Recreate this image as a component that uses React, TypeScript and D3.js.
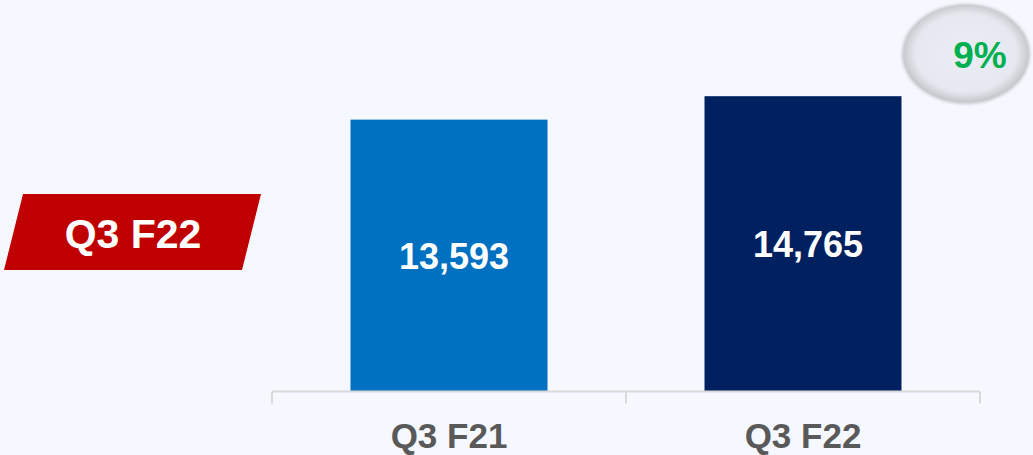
import { useEffect, useRef } from "react"
import * as d3 from "d3"

const categories = ["Q3 F21", "Q3 F22"]
const values = [13593, 14765]
const barColors = ["#0070c0", "#002060"]
const periodLabel = "Q3 F22"
const growthLabel = "9%"

export default function App() {
  const svgRef = useRef<SVGSVGElement>(null)

  useEffect(() => {
    if (!svgRef.current) return
    const svg = d3.select(svgRef.current)
    svg.selectAll("*").remove()

    const width = 1033
    const height = 455
    const baseY = 391.5
    const font = "'Liberation Sans', Arial, sans-serif"

    svg.append("rect").attr("width", width).attr("height", height).attr("fill", "#f5f8fe")

    const defs = svg.append("defs")
    const grad = defs.append("radialGradient").attr("id", "badge-grad").attr("cx", "50%").attr("cy", "50%").attr("r", "50%")
    grad.append("stop").attr("offset", "0%").attr("stop-color", "#eceef5")
    grad.append("stop").attr("offset", "82%").attr("stop-color", "#e6e8ef")
    grad.append("stop").attr("offset", "100%").attr("stop-color", "#c9cbd1")
    const blur = defs.append("filter").attr("id", "badge-shadow").attr("x", "-20%").attr("y", "-20%").attr("width", "140%").attr("height", "140%")
    blur.append("feGaussianBlur").attr("stdDeviation", 1.5)

    // scales
    const p = 0.4435
    const x = d3.scaleBand().domain(categories).range([272, 980]).paddingInner(p).paddingOuter(p / 2)
    const y = d3.scaleLinear().domain([0, 20000]).range([baseY, baseY - 400])

    // bars
    svg
      .selectAll(".bar")
      .data(values)
      .enter()
      .append("rect")
      .attr("x", (_, i) => x(categories[i]) || 0)
      .attr("width", x.bandwidth())
      .attr("y", (d) => y(d))
      .attr("height", (d) => baseY - y(d))
      .attr("fill", (_, i) => barColors[i])

    // value labels
    svg
      .selectAll(".val")
      .data(values)
      .enter()
      .append("text")
      .attr("x", (_, i) => (x(categories[i]) || 0) + x.bandwidth() / 2 + 5)
      .attr("y", (d) => (y(d) + baseY) / 2)
      .attr("dy", "0.36em")
      .attr("text-anchor", "middle")
      .attr("fill", "#ffffff")
      .attr("font-family", font)
      .attr("font-weight", "bold")
      .attr("font-size", 36)
      .text((d) => d3.format(",")(d))

    // axis line + boundary ticks
    const axis = svg.append("g").attr("stroke", "#d9d9d9").attr("stroke-width", 2)
    axis.append("line").attr("x1", 272).attr("x2", 980).attr("y1", baseY).attr("y2", baseY)
    d3.range(categories.length + 1).forEach((i) => {
      const bx = 272 + i * x.step()
      axis.append("line").attr("x1", bx).attr("x2", bx).attr("y1", baseY).attr("y2", baseY + 12)
    })

    // category labels
    svg
      .selectAll(".cat")
      .data(categories)
      .enter()
      .append("text")
      .attr("x", (d) => (x(d) || 0) + x.bandwidth() / 2)
      .attr("y", 448)
      .attr("text-anchor", "middle")
      .attr("fill", "#595959")
      .attr("font-family", font)
      .attr("font-weight", "bold")
      .attr("font-size", 35)
      .text((d) => d)

    // red period tag
    svg
      .append("polygon")
      .attr("points", "23,194 261,194 242,270 4,270")
      .attr("fill", "#c00000")
    svg
      .append("text")
      .attr("x", 133)
      .attr("y", 248)
      .attr("text-anchor", "middle")
      .attr("fill", "#ffffff")
      .attr("font-family", font)
      .attr("font-weight", "bold")
      .attr("font-size", 41)
      .text(periodLabel)

    // growth badge
    svg
      .append("ellipse")
      .attr("cx", 966)
      .attr("cy", 54)
      .attr("rx", 64)
      .attr("ry", 50)
      .attr("fill", "#c4c6cc")
      .attr("filter", "url(#badge-shadow)")
    svg
      .append("ellipse")
      .attr("cx", 966)
      .attr("cy", 53)
      .attr("rx", 62)
      .attr("ry", 48)
      .attr("fill", "url(#badge-grad)")
    svg
      .append("text")
      .attr("x", 980)
      .attr("y", 68)
      .attr("text-anchor", "middle")
      .attr("fill", "#00b050")
      .attr("font-family", font)
      .attr("font-weight", "bold")
      .attr("font-size", 37)
      .text(growthLabel)
  }, [])

  return (
    <div style={{ position: "absolute", left: 0, top: 0, width: 1033, height: 455 }}>
      <svg ref={svgRef} width={1033} height={455} style={{ display: "block" }}></svg>
    </div>
  )
}
